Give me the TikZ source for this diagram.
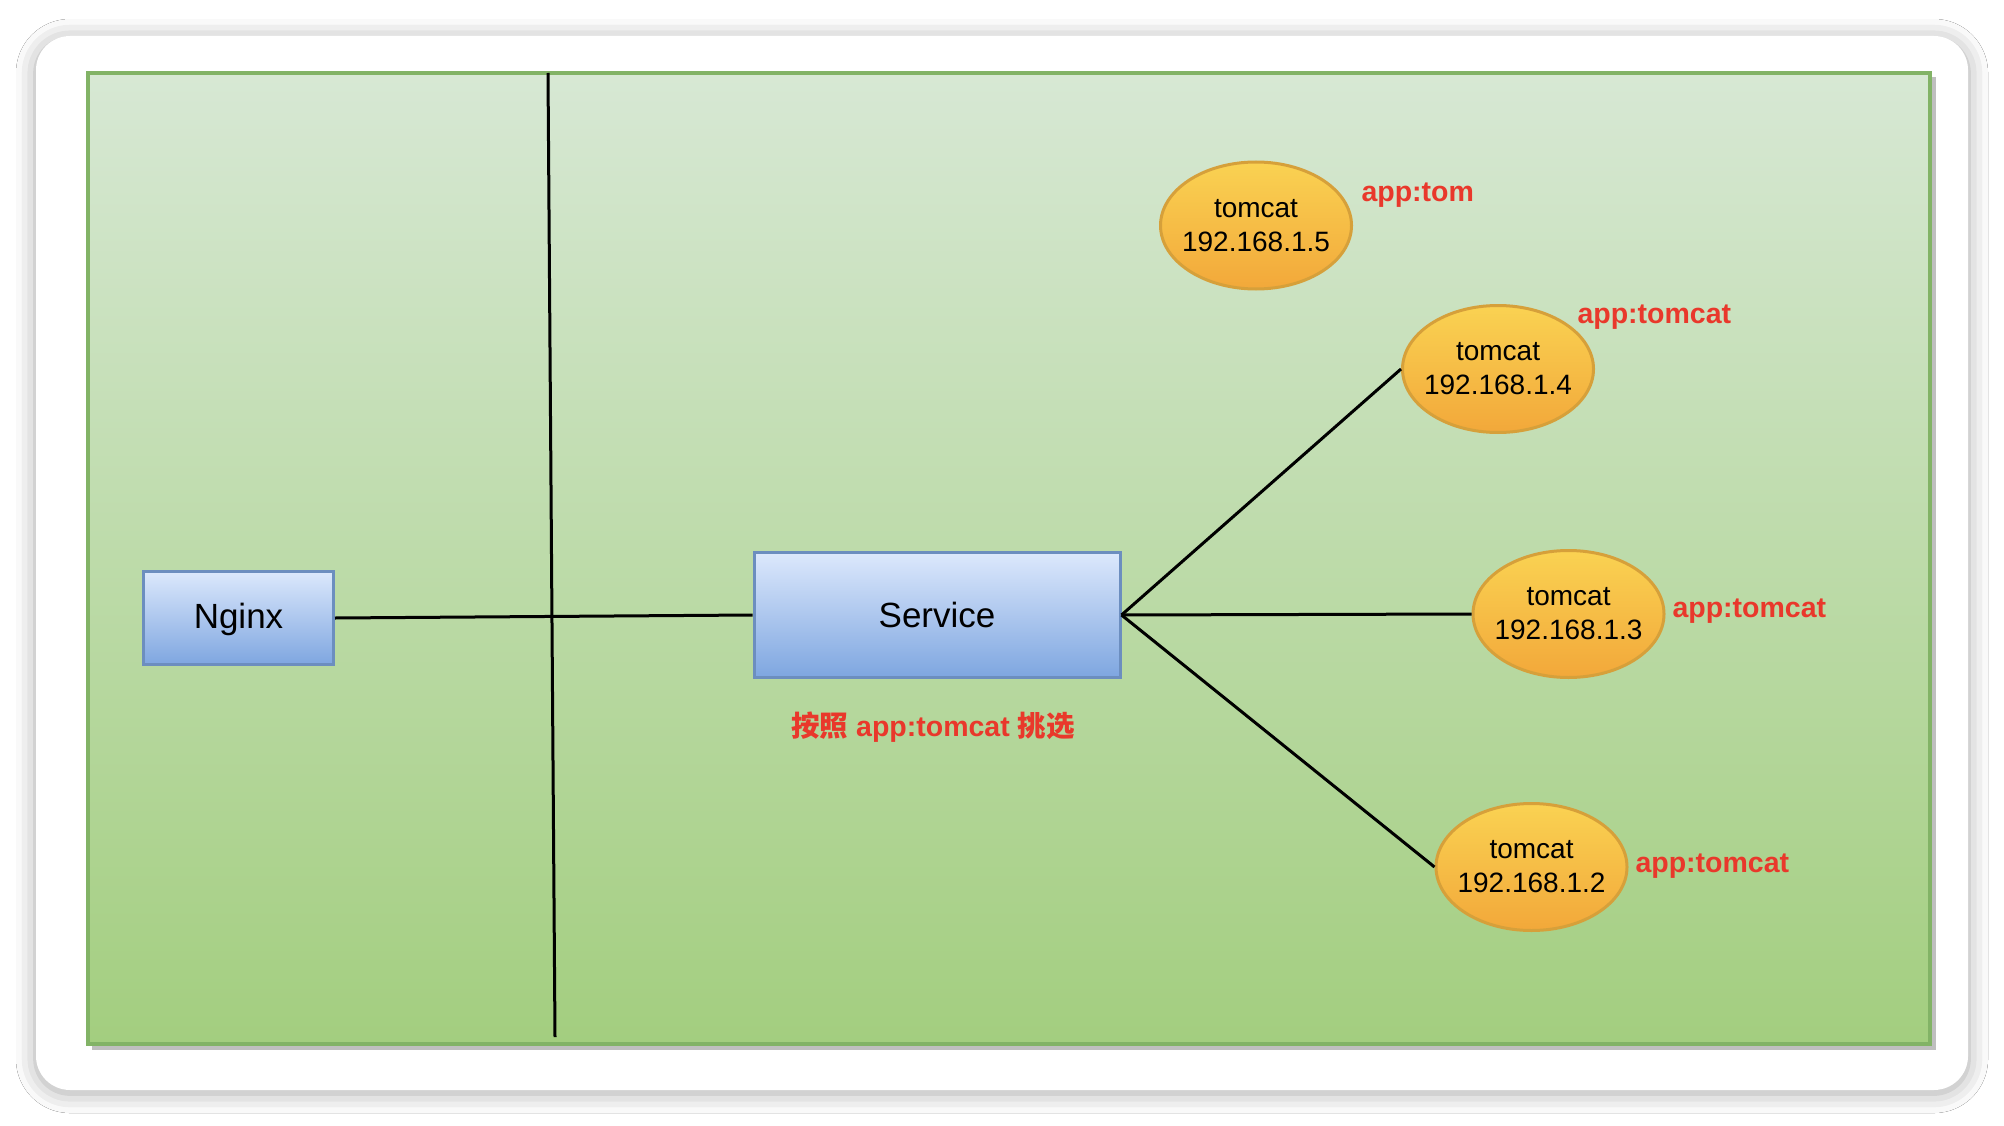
\documentclass[tikz,border=0pt]{standalone}
\usepackage{fontspec}
\setmainfont{Liberation Sans}
\newfontfamily\cjk{Noto Sans CJK SC}
\usetikzlibrary{shapes,arrows,shadows,shadows.blur}
\definecolor{frameGreen}{RGB}{130,179,102}
\definecolor{paneTop}{RGB}{215,232,212}
\definecolor{paneBot}{RGB}{163,206,127}
\definecolor{boxLine}{RGB}{108,142,191}
\definecolor{boxTop}{RGB}{220,232,252}
\definecolor{boxBot}{RGB}{126,166,224}
\definecolor{podLine}{RGB}{214,160,58}
\definecolor{podTop}{RGB}{250,210,82}
\definecolor{podBot}{RGB}{242,168,58}
\definecolor{tagRed}{RGB}{233,56,43}

\tikzset{
  box/.style={draw=boxLine, line width=3pt, top color=boxTop, bottom color=boxBot,
    inner sep=0pt, font=\fontsize{35}{42}\selectfont},
  pod/.style={ellipse, draw=podLine, line width=3pt, top color=podTop, bottom color=podBot,
    minimum width=191pt, minimum height=127pt, inner xsep=-12pt, inner ysep=0pt, align=center,
    font=\fontsize{28}{34}\selectfont},
  tag/.style={anchor=base west, text=tagRed, font=\fontsize{28.5}{34}\selectfont\bfseries},
  wire/.style={line width=3pt}
}

\begin{document}
\begin{tikzpicture}[x=1pt,y=-1pt]
\fill [white] (0,0) rectangle (2004,1126);
\useasboundingbox (0,0) rectangle (2004,1126);

% to draw the card and the green pane
\fill [white, rounded corners=34pt, blur shadow={shadow xshift=0pt, shadow yshift=-3pt,
  shadow blur radius=20pt, shadow opacity=35}] (36,36) rectangle (1968,1090);
\fill [black!25] (92,77) rectangle (1936,1050);
\draw [frameGreen, line width=4pt, top color=paneTop, bottom color=paneBot] (88,73) rectangle (1930,1044);

% to draw the dividing line
\coordinate (cutTop) at (548,73);
\coordinate (cutBot) at (555,1037);
\draw [wire] (cutTop) -- (cutBot);

% to place the boxes
\node [box, minimum width=190pt, minimum height=93pt, text depth=4pt] (nginx) at (238.5,618) {Nginx};
\node [box, minimum width=366pt, minimum height=125pt] (service) at (937,615) {Service};
\node [text=tagRed, font=\fontsize{28.5}{34}\selectfont\bfseries] (pick) at (933,727)
  {{\cjk\bfseries 按照} app:tomcat {\cjk\bfseries 挑选}};

% to place the tomcat pods
\node [pod] (tc5) at (1256,225.5) {tomcat\\192.168.1.5};
\node [pod] (tc4) at (1498,369) {tomcat\\192.168.1.4};
\node [pod] (tc3) at (1568.5,614) {tomcat\\192.168.1.3};
\node [pod] (tc2) at (1531.5,867) {tomcat\\192.168.1.2};

% labels
\node [tag] (lab5) at (1358,202) {app:tom};
\node [tag] (lab4) at (1574,323) {app:tomcat};
\node [tag] (lab3) at (1669,617) {app:tomcat};
\node [tag] (lab2) at (1632,872) {app:tomcat};

% to draw the links
\draw [wire] (nginx.east) -- (service.west);
\draw [wire] (service.east) -- (tc4.west);
\draw [wire] (service.east) -- (tc3.west);
\draw [wire] (service.east) -- (tc2.west);
\end{tikzpicture}
\end{document}
